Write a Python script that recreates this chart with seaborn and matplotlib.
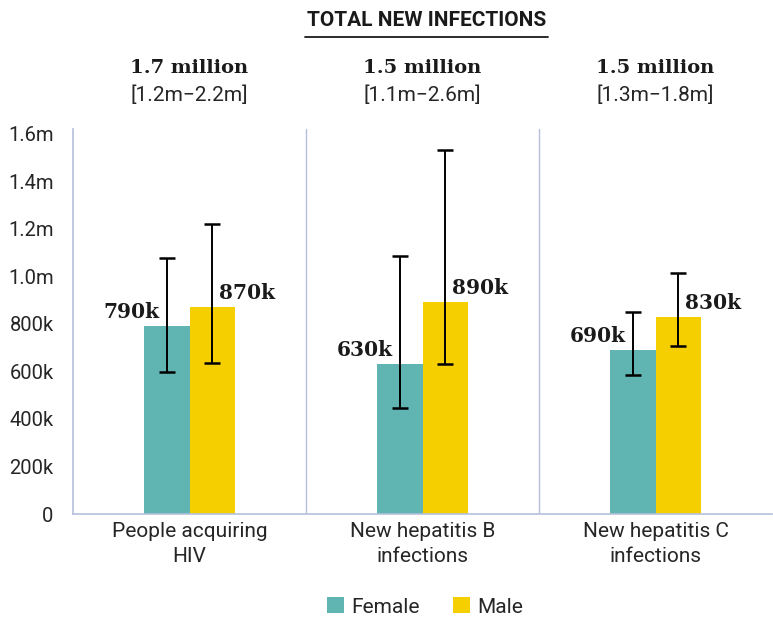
import matplotlib
matplotlib.use("Agg")
import matplotlib.pyplot as plt
from matplotlib.lines import Line2D
from matplotlib.patches import Patch
import seaborn as sns
import pandas as pd
import numpy as np

categories = ["People acquiring\nHIV", "New hepatitis B\ninfections", "New hepatitis C\ninfections"]
sexes = ["Female", "Male"]
female_vals = [790000, 630000, 690000]
male_vals = [870000, 890000, 830000]
female_low = [598000, 448000, 585000]
female_high = [1079000, 1086000, 848000]
male_low = [637000, 632000, 707000]
male_high = [1221000, 1533000, 1016000]
female_labels = ["790k", "630k", "690k"]
male_labels = ["870k", "890k", "830k"]
totals = ["1.7 million", "1.5 million", "1.5 million"]
ranges = ["[1.2m\u22122.2m]", "[1.1m\u22122.6m]", "[1.3m\u22121.8m]"]
ytick_vals = [0, 200000, 400000, 600000, 800000, 1000000, 1200000, 1400000, 1600000]
ytick_labels = ["0", "200k", "400k", "600k", "800k", "1.0m", "1.2m", "1.4m", "1.6m"]

colors = {"Female": "#60B5B3", "Male": "#F5CF00"}
axis_color = "#B4C0DC"
text_color = "#262626"
sans = ["Roboto", "DejaVu Sans"]
serif = ["DejaVu Serif"]

df = pd.DataFrame({
    "category": categories * 2,
    "sex": ["Female"] * 3 + ["Male"] * 3,
    "value": female_vals + male_vals,
})

sns.set_theme(style="white")
plt.rcParams["font.family"] = sans

fig = plt.figure(figsize=(7.73, 6.18), dpi=100)
ax = fig.add_axes([73 / 773, 1 - 514 / 618, (772 - 73) / 773, (514 - 129) / 618])

sns.barplot(data=df, x="category", y="value", hue="sex", palette=colors,
            width=0.39, errorbar=None, ax=ax, legend=False, saturation=1,
            linewidth=0)

ax.set_xlim(-0.5, 2.5)
ax.set_ylim(0, 1.62e6)

lows = {"Female": female_low, "Male": male_low}
highs = {"Female": female_high, "Male": male_high}
vals = {"Female": female_vals, "Male": male_vals}
labs = {"Female": female_labels, "Male": male_labels}

for cont, sex in zip(ax.containers, sexes):
    for i, bar in enumerate(cont):
        cx = bar.get_x() + bar.get_width() / 2
        v = vals[sex][i]
        ax.errorbar(cx, v, yerr=[[v - lows[sex][i]], [highs[sex][i] - v]],
                    fmt="none", ecolor="black", elinewidth=1.4, capsize=5.5,
                    capthick=1.8, zorder=5)
        if sex == "Female":
            ax.annotate(labs[sex][i], (cx, v), xytext=(-5, 3), textcoords="offset points",
                        ha="right", va="bottom", fontsize=14.5, fontweight="bold",
                        family=serif, color="#1a1a1a")
        else:
            ax.annotate(labs[sex][i], (cx, v), xytext=(5, 3), textcoords="offset points",
                        ha="left", va="bottom", fontsize=14.5, fontweight="bold",
                        family=serif, color="#1a1a1a")

for xs in [0.5, 1.5]:
    ax.axvline(xs, color=axis_color, lw=1, zorder=0)

for s in ["top", "right"]:
    ax.spines[s].set_visible(False)
for s in ["left", "bottom"]:
    ax.spines[s].set_color(axis_color)
    ax.spines[s].set_linewidth(1.2)

ax.set_yticks(ytick_vals)
ax.set_yticklabels(ytick_labels)
ax.tick_params(axis="y", length=0, pad=14, labelsize=14.5, labelcolor=text_color)
ax.tick_params(axis="x", length=0, pad=6, labelsize=15, labelcolor=text_color)
for t in ax.get_yticklabels() + ax.get_xticklabels():
    t.set_family(sans)
for t in ax.get_xticklabels():
    t.set_linespacing(1.35)
ax.set_xlabel("")
ax.set_ylabel("")

# Headers above each category
for i in range(3):
    xfig = (73 + (i + 0.5) * (772 - 73) / 3) / 773
    fig.text(xfig, 1 - 68 / 618, totals[i], ha="center", va="center",
             fontsize=14, fontweight="bold", family=serif, color="#1a1a1a")
    fig.text(xfig, 1 - 95 / 618, ranges[i], ha="center", va="center",
             fontsize=15, family=sans, color=text_color)

fig.text(427 / 773, 1 - 20 / 618, "TOTAL NEW INFECTIONS", ha="center", va="center",
         fontsize=15, fontweight="bold", family=sans, color="#1a1a1a")
fig.add_artist(Line2D([305 / 773, 548 / 773], [1 - 37 / 618, 1 - 37 / 618],
                      color="#1a1a1a", lw=1.3, transform=fig.transFigure))

handles = [Patch(facecolor=colors[s], edgecolor="none") for s in sexes]
fig.legend(handles, sexes, loc="center", bbox_to_anchor=(425 / 773, 1 - 607 / 618),
           ncol=2, frameon=False, handlelength=0.8, handleheight=0.8,
           handletextpad=0.35, columnspacing=1.6,
           prop={"family": sans, "size": 15})

fig.savefig("out.png", dpi=100)
